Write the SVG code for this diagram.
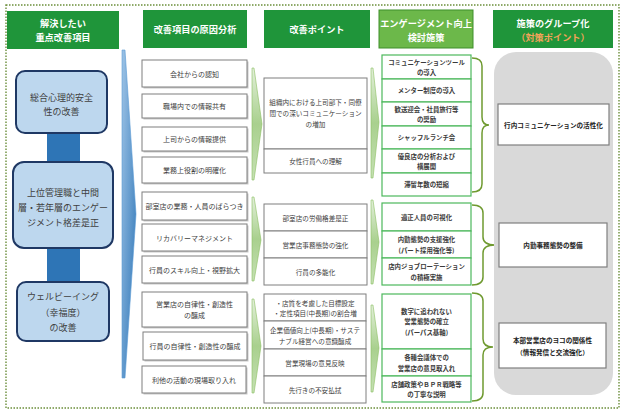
<svg xmlns="http://www.w3.org/2000/svg" width="624" height="415" viewBox="0 0 624 415">
<defs>
<style>
text{font-family:"Noto Sans CJK JP","Noto Sans",sans-serif;text-anchor:middle;dominant-baseline:central}
.hd{fill:#1f953a}
.hl{fill:#6cb84a;stroke:#3f8f2a;stroke-width:1}
.ht{fill:#fff;font-size:9.2px;font-weight:bold}
.lb{fill:#bdd7ee;stroke:#1f3864;stroke-width:2}
.lt{fill:#404040;font-size:9px}
.c2{fill:#fff;stroke:#7f7f7f;stroke-width:1}
.sh{fill:#c8c8c8}
.t2{fill:#404040;font-size:7px}
.c3{fill:#fff;stroke:#7f7f7f;stroke-width:1}
.t3{fill:#404040;font-size:6.6px}
.c4{fill:#fff;stroke:#4cb85c;stroke-width:1.2}
.t4{fill:#3a3a3a;font-size:6.4px;font-weight:bold}
.br{fill:none;stroke:#6f9a30;stroke-width:1.5}
.gb{fill:#fff;stroke:#7f7f7f;stroke-width:1.2}
.tg{fill:#222;font-size:6.6px;font-weight:bold}
.gc{fill:url(#gg);stroke:#8cbf62;stroke-width:0.6}
</style>
<linearGradient id="bg" x1="0" y1="0" x2="1" y2="1">
<stop offset="0" stop-color="#9dc3e6"/><stop offset="1" stop-color="#2e75b6"/>
</linearGradient>
<linearGradient id="gg" x1="0" y1="0" x2="0" y2="1">
<stop offset="0" stop-color="#e2efd9"/><stop offset="0.5" stop-color="#a9d08e"/><stop offset="1" stop-color="#c5e0b3"/>
</linearGradient>
</defs>
<rect width="624" height="415" fill="#fff"/>
<rect x="6" y="5" width="613" height="403" fill="none" stroke="#6b8e3a" stroke-width="1.4" stroke-dasharray="1.5 1.5"/>

<g id="headers">
<rect class="hd" x="7" y="11" width="112" height="38"/>
<text class="ht" x="63" y="23">解決したい</text>
<text class="ht" x="63" y="37">重点改善項目</text>
<rect class="hd" x="143" y="10" width="104" height="38"/>
<text class="ht" x="195" y="29">改善項目の原因分析</text>
<rect class="hd" x="264" y="10" width="106" height="38"/>
<text class="ht" x="317" y="29">改善ポイント</text>
<rect class="hl" x="379" y="10" width="94" height="38"/>
<text class="ht" x="426" y="22.5" font-size="8.6">エンゲージメント向上</text>
<text class="ht" x="426" y="37">検討施策</text>
<rect class="hd" x="493" y="10" width="120" height="38"/>
<text class="ht" x="553" y="23">施策のグループ化</text>
<text class="ht" x="553" y="37" style="fill:#f4a35a">（対策ポイント）</text>
</g>

<g id="connectors">
<rect x="47" y="120" width="33" height="175" fill="#2e75b6"/>
<polygon points="122,50 125,50 136,214 125,378 122,378" fill="url(#bg)" stroke="#5b9bd5" stroke-width="0.6"/>
<polygon class="gc" points="252,68 254,68 262,124 254,180 252,180"/>
<polygon class="gc" points="252,197 254,197 261,240 254,281 252,281"/>
<polygon class="gc" points="252,299 254,299 261,346 254,393 252,393"/>
<polygon class="gc" points="371,68 373,68 379,122 373,178 371,178"/>
<polygon class="gc" points="371,200 373,200 379,242 373,284 371,284"/>
<polygon class="gc" points="371,305 373,305 379,348 373,392 371,392"/>
<path class="br" d="M472,58 Q482,58 482,66 L482,117 Q482,125 489,125 Q482,125 482,133 L482,184 Q482,192 472,192"/>
<path class="br" d="M472,205 Q483,205 483,213 L483,237 Q483,245 495,245 Q483,245 483,253 L483,277 Q483,285 472,285"/>
<path class="br" d="M472,293 Q483,293 483,301 L483,339 Q483,347 493,347 Q483,347 483,355 L483,393 Q483,401 472,401"/>
</g>

<g id="issue-1">
<rect class="lb" x="16" y="71" width="91" height="62" rx="9"/>
<text class="lt" x="61.5" y="97">総合心理的安全</text>
<text class="lt" x="61.5" y="111">性の改善</text>
</g>
<g id="issue-2">
<rect class="lb" x="13" y="162" width="100" height="86" rx="11"/>
<text class="lt" x="63" y="192">上位管理職と中間</text>
<text class="lt" x="63" y="207">層・若年層のエンゲー</text>
<text class="lt" x="63" y="222">ジメント格差是正</text>
</g>
<g id="issue-3">
<rect class="lb" x="17" y="282" width="92" height="59" rx="9"/>
<text class="lt" x="63" y="296">ウェルビーイング</text>
<text class="lt" x="63" y="312">（幸福度）</text>
<text class="lt" x="63" y="327">の改善</text>
</g>

<g id="cause-1"><rect class="sh" x="143.5" y="61.5" width="105" height="27"/><rect class="c2" x="142" y="60" width="105" height="27"/><text class="t2" x="194.5" y="73.5">会社からの認知</text></g>
<g id="cause-2"><rect class="sh" x="143.5" y="95.5" width="105" height="24"/><rect class="c2" x="142" y="94" width="105" height="24"/><text class="t2" x="194.5" y="106">職場内での情報共有</text></g>
<g id="cause-3"><rect class="sh" x="143.5" y="128.5" width="105" height="24"/><rect class="c2" x="142" y="127" width="105" height="24"/><text class="t2" x="194.5" y="139">上司からの情報提供</text></g>
<g id="cause-4"><rect class="sh" x="143.5" y="158.5" width="105" height="26"/><rect class="c2" x="142" y="157" width="105" height="26"/><text class="t2" x="194.5" y="170">業務上役割の明確化</text></g>
<g id="cause-5"><rect class="sh" x="143.5" y="193.5" width="105" height="28"/><rect class="c2" x="142" y="192" width="105" height="28"/><text class="t2" x="194.5" y="206">部室店の業務・人員のばらつき</text></g>
<g id="cause-6"><rect class="sh" x="143.5" y="225.5" width="105" height="27"/><rect class="c2" x="142" y="224" width="105" height="27"/><text class="t2" x="194.5" y="237.5">リカバリーマネジメント</text></g>
<g id="cause-7"><rect class="sh" x="143.5" y="257.5" width="105" height="27"/><rect class="c2" x="142" y="256" width="105" height="27"/><text class="t2" x="194.5" y="269.5">行員のスキル向上・視野拡大</text></g>
<g id="cause-8"><rect class="sh" x="143.5" y="293.5" width="105" height="35"/><rect class="c2" x="142" y="292" width="105" height="35"/><text class="t2" x="194.5" y="304">営業店の自律性・創造性</text><text class="t2" x="194.5" y="315">の醸成</text></g>
<g id="cause-9"><rect class="sh" x="144.5" y="333.5" width="104" height="28"/><rect class="c2" x="143" y="332" width="104" height="28"/><text class="t2" x="195" y="346">行員の自律性・創造性の醸成</text></g>
<g id="cause-10"><rect class="sh" x="143.5" y="367.5" width="104" height="27"/><rect class="c2" x="142" y="366" width="104" height="27"/><text class="t2" x="194" y="379.5">利他の活動の現場取り入れ</text></g>

<g id="point-1">
<rect class="c3" x="264" y="78" width="103" height="71"/>
<text class="t3" x="315.5" y="102">組織内における上司部下・同僚</text>
<text class="t3" x="315.5" y="113">間での深いコミュニケーション</text>
<text class="t3" x="315.5" y="124">の増加</text>
</g>
<g id="point-2"><rect class="c3" x="264" y="149" width="103" height="24"/><text class="t3" x="315.5" y="161">女性行員への理解</text></g>
<g id="point-3"><rect class="c3" x="264" y="204" width="103" height="27"/><text class="t3" x="315.5" y="217.5">部室店の労働格差是正</text></g>
<g id="point-4"><rect class="c3" x="264" y="231" width="103" height="27"/><text class="t3" x="315.5" y="244.5">営業店事務態勢の強化</text></g>
<g id="point-5"><rect class="c3" x="264" y="258" width="103" height="27"/><text class="t3" x="315.5" y="271.5">行員の多能化</text></g>
<g id="point-6"><rect class="c3" x="264" y="294" width="102" height="27"/><text class="t3" x="315" y="302.5">・店質を考慮した目標設定</text><text class="t3" x="315" y="313">・定性項目(中長期)の割合増</text></g>
<g id="point-7"><rect class="c3" x="264" y="321" width="102" height="28"/><text class="t3" x="315" y="330">企業価値向上(中長期)・サステ</text><text class="t3" x="315" y="341">ナブル経営への意識醸成</text></g>
<g id="point-8"><rect class="c3" x="264" y="349" width="102" height="27"/><text class="t3" x="315" y="362.5">営業現場の意見反映</text></g>
<g id="point-9"><rect class="c3" x="264" y="376" width="102" height="27"/><text class="t3" x="315" y="389.5">先行きの不安払拭</text></g>

<g id="measure-1"><rect class="c4" x="382" y="55" width="89" height="24"/><text class="t4" x="426.5" y="62">コミュニケーションツール</text><text class="t4" x="426.5" y="72">の導入</text></g>
<g id="measure-2"><rect class="c4" x="382" y="79" width="89" height="23"/><text class="t4" x="426.5" y="90.5">メンター制度の導入</text></g>
<g id="measure-3"><rect class="c4" x="382" y="102" width="89" height="24"/><text class="t4" x="426.5" y="109">歓送迎会・社員旅行等</text><text class="t4" x="426.5" y="119.5">の奨励</text></g>
<g id="measure-4"><rect class="c4" x="382" y="126" width="89" height="23"/><text class="t4" x="426.5" y="137.5">シャッフルランチ会</text></g>
<g id="measure-5"><rect class="c4" x="382" y="149" width="89" height="24"/><text class="t4" x="426.5" y="156">優良店の分析および</text><text class="t4" x="426.5" y="166.5">横展開</text></g>
<g id="measure-6"><rect class="c4" x="382" y="173" width="89" height="23"/><text class="t4" x="426.5" y="184.5">滞留年数の短縮</text></g>
<g id="measure-7"><rect class="c4" x="382" y="203" width="89" height="28"/><text class="t4" x="426.5" y="217">適正人員の可視化</text></g>
<g id="measure-8"><rect class="c4" x="382" y="231" width="89" height="27"/><text class="t4" x="426.5" y="239.5">内勤態勢の支援強化</text><text class="t4" x="426.5" y="250">(パート採用強化等)</text></g>
<g id="measure-9"><rect class="c4" x="382" y="258" width="89" height="27"/><text class="t4" x="426.5" y="266.5">店内ジョブローテーション</text><text class="t4" x="426.5" y="277">の積極実施</text></g>
<g id="measure-10"><rect class="c4" x="382" y="294" width="89" height="55"/><text class="t4" x="426.5" y="311">数字に追われない</text><text class="t4" x="426.5" y="321.5">営業態勢の確立</text><text class="t4" x="426.5" y="332">(パーパス基軸)</text></g>
<g id="measure-11"><rect class="c4" x="382" y="349" width="89" height="27"/><text class="t4" x="426.5" y="357.5">各種会議体での</text><text class="t4" x="426.5" y="368">営業店の意見取入れ</text></g>
<g id="measure-12"><rect class="c4" x="382" y="376" width="89" height="26"/><text class="t4" x="426.5" y="384">店舗政策やＢＰＲ戦略等</text><text class="t4" x="426.5" y="394.5">の丁寧な説明</text></g>

<g id="group-panel"><rect x="494" y="52" width="119" height="343" rx="22" fill="#d9d9d9"/></g>
<g id="group-1"><rect class="gb" x="498" y="104" width="111" height="41"/><text class="tg" x="553.5" y="124.5">行内コミュニケーションの活性化</text></g>
<g id="group-2"><rect class="gb" x="499" y="223" width="108" height="44"/><text class="tg" x="553" y="245">内勤事務態勢の整備</text></g>
<g id="group-3"><rect class="gb" x="499" y="323" width="107" height="45"/><text class="tg" x="552.5" y="339.5">本部営業店のヨコの関係性</text><text class="tg" x="552.5" y="351.5">（情報発信と交流強化）</text></g>
</svg>
